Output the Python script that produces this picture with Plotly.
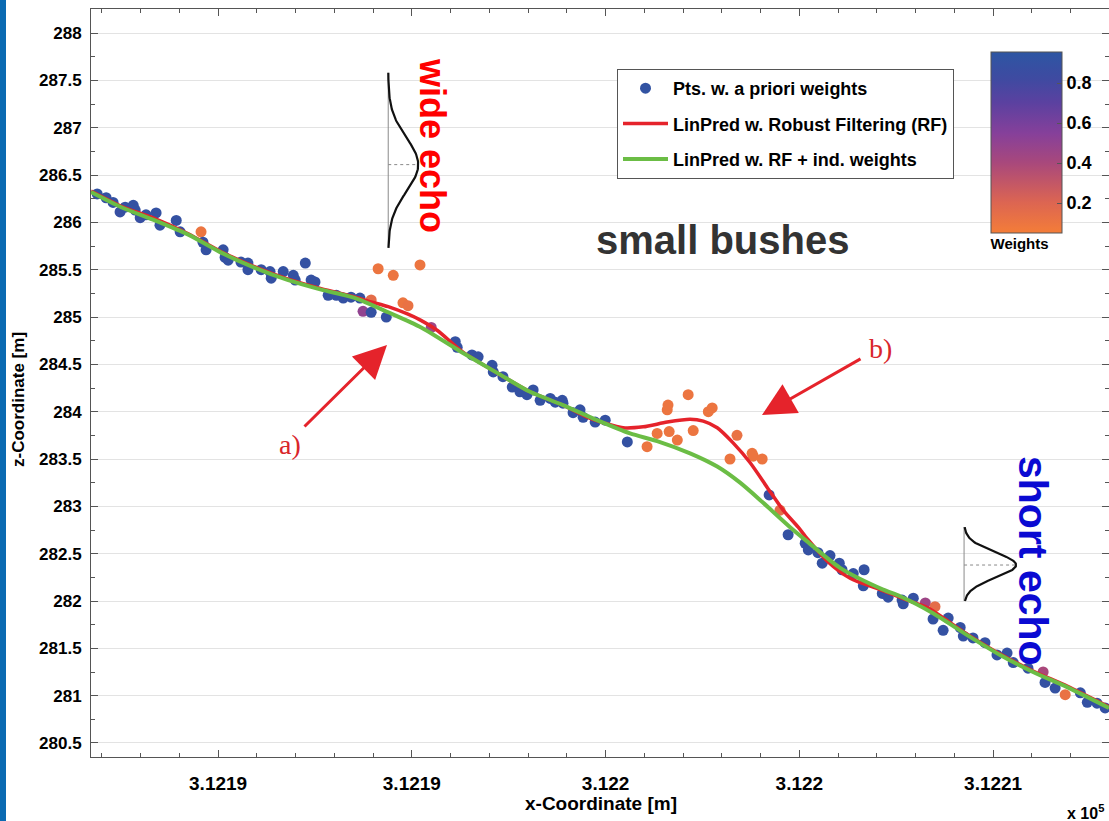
import numpy as np
import plotly.graph_objects as go

# ---------------- data ----------------
# points (x in m, z in m, a-priori weight)
pts_x = [312184.38, 312184.61, 312184.79, 312184.97, 312185.10, 312185.31, 312185.36, 312185.49, 312185.64, 312185.90,
         312186.00, 312186.42, 312186.52, 312187.06, 312187.11, 312187.19, 312187.63, 312187.68, 312187.76, 312188.09,
         312188.27, 312188.27, 312188.61, 312188.84, 312188.87, 312189.18, 312189.44, 312189.49, 312189.75, 312189.90,
         312190.00, 312190.34, 312190.55, 312190.73, 312190.93, 312191.16, 312191.45, 312191.24, 312191.45, 312191.84,
         312191.63, 312192.02, 312192.71, 312192.27, 312192.40, 312193.00, 312193.62, 312193.67, 312194.05, 312194.21,
         312194.57, 312194.60, 312194.85, 312195.09, 312195.29, 312195.47, 312195.63, 312195.81, 312196.07, 312196.20,
         312196.38, 312196.40, 312196.66, 312196.84, 312196.92, 312197.23, 312197.49, 312198.06, 312198.57, 312198.83,
         312199.09, 312199.11, 312199.14, 312199.35, 312199.63, 312199.76, 312200.15, 312200.25, 312200.71, 312200.89,
         312201.28, 312201.31, 312201.54, 312201.72, 312202.00, 312202.21, 312202.65, 312202.73, 312202.98, 312203.09,
         312203.29, 312203.53, 312203.60, 312203.89, 312204.17, 312204.15, 312204.64, 312204.79, 312205.15, 312205.18,
         312205.44, 312205.75, 312206.00, 312205.95, 312206.34, 312206.21, 312206.65, 312206.73, 312206.98, 312207.29,
         312207.60, 312207.86, 312208.02, 312208.40, 312208.79, 312208.84, 312209.10, 312209.36, 312209.75, 312209.93,
         312210.18, 312210.39]
pts_z = [286.30, 286.26, 286.21, 286.11, 286.16, 286.18, 286.13, 286.05, 286.08, 286.10,
         285.97, 286.02, 285.90, 285.90, 285.79, 285.71, 285.71, 285.63, 285.60, 285.58,
         285.57, 285.50, 285.50, 285.48, 285.41, 285.48, 285.44, 285.39, 285.57, 285.39,
         285.37, 285.23, 285.23, 285.20, 285.21, 285.20, 285.18, 285.06, 285.05, 285.00,
         285.51, 285.44, 285.55, 285.15, 285.12, 284.89, 284.74, 284.68, 284.60, 284.58,
         284.49, 284.42, 284.37, 284.26, 284.21, 284.18, 284.23, 284.12, 284.14, 284.10,
         284.12, 284.09, 283.99, 284.02, 283.94, 283.89, 283.91, 283.68, 283.63, 283.77,
         284.02, 284.07, 283.79, 283.70, 284.18, 283.80, 284.00, 284.04, 283.50, 283.75,
         283.56, 283.53, 283.50, 283.12, 282.96, 282.70, 282.61, 282.54, 282.51, 282.40,
         282.48, 282.40, 282.33, 282.29, 282.33, 282.16, 282.08, 282.04, 282.01, 281.97,
         282.03, 281.98, 281.94, 281.81, 281.82, 281.69, 281.72, 281.63, 281.61, 281.56,
         281.43, 281.45, 281.35, 281.29, 281.25, 281.14, 281.08, 281.01, 281.03, 280.93,
         280.92, 280.87]
pts_w = [0.92, 0.90, 0.90, 0.88, 0.90, 0.90, 0.90, 0.88, 0.90, 0.90,
         0.90, 0.90, 0.90, 0.10, 0.90, 0.90, 0.90, 0.90, 0.90, 0.90,
         0.90, 0.90, 0.90, 0.90, 0.90, 0.90, 0.90, 0.90, 0.90, 0.90,
         0.90, 0.90, 0.90, 0.90, 0.90, 0.90, 0.15, 0.50, 0.90, 0.90,
         0.10, 0.10, 0.10, 0.10, 0.12, 0.45, 0.90, 0.90, 0.90, 0.90,
         0.90, 0.90, 0.90, 0.90, 0.90, 0.90, 0.90, 0.90, 0.90, 0.90,
         0.90, 0.90, 0.90, 0.90, 0.90, 0.90, 0.90, 0.90, 0.10, 0.10,
         0.10, 0.10, 0.10, 0.10, 0.10, 0.10, 0.10, 0.10, 0.10, 0.12,
         0.10, 0.10, 0.10, 0.85, 0.15, 0.90, 0.90, 0.90, 0.90, 0.90,
         0.90, 0.90, 0.90, 0.90, 0.90, 0.90, 0.90, 0.90, 0.90, 0.90,
         0.90, 0.45, 0.15, 0.90, 0.90, 0.90, 0.90, 0.90, 0.90, 0.90,
         0.90, 0.90, 0.90, 0.90, 0.40, 0.90, 0.90, 0.12, 0.90, 0.90,
         0.90, 0.90]

# LinPred w. Robust Filtering (RF)
rf_x = [312184.22, 312185.00, 312185.87, 312186.73, 312187.58, 312188.45, 312189.31, 312190.16, 312191.04, 312191.45,
        312191.89, 312192.40, 312192.71, 312193.15, 312193.82, 312194.70, 312195.55, 312196.40, 312197.10, 312197.95,
        312198.47, 312199.09, 312199.68, 312200.02, 312200.38, 312200.79, 312201.23, 312201.67, 312202.08, 312202.47,
        312202.70, 312203.22, 312203.81, 312204.58, 312205.28, 312205.80, 312206.83, 312207.68, 312208.53, 312209.41,
        312210.49]
rf_z = [286.33, 286.17, 286.04, 285.88, 285.69, 285.53, 285.40, 285.30, 285.21, 285.16,
        285.11, 285.03, 284.97, 284.86, 284.63, 284.41, 284.21, 284.07, 283.93, 283.83,
        283.84, 283.89, 283.92, 283.90, 283.83, 283.67, 283.46, 283.20, 282.96, 282.78,
        282.66, 282.42, 282.24, 282.12, 282.01, 281.93, 281.65, 281.44, 281.26, 281.10,
        280.88]

# LinPred w. RF + ind. weights
ind_x = [312184.22, 312185.00, 312185.87, 312186.73, 312187.58, 312188.45, 312189.31, 312190.16, 312191.04, 312191.89,
         312192.74, 312193.82, 312194.70, 312195.55, 312196.40, 312197.28, 312198.13, 312198.83, 312199.68, 312200.38,
         312200.97, 312201.56, 312202.26, 312202.70, 312203.55, 312204.66, 312205.10, 312205.95, 312206.83, 312207.68,
         312208.53, 312209.41, 312210.49]
ind_z = [286.32, 286.16, 286.02, 285.87, 285.68, 285.52, 285.39, 285.29, 285.20, 285.05,
         284.89, 284.62, 284.41, 284.21, 284.07, 283.91, 283.77, 283.69, 283.56, 283.42,
         283.25, 283.04, 282.78, 282.63, 282.35, 282.12, 282.05, 281.87, 281.64, 281.43,
         281.25, 281.09, 280.87]

x_tickvals = [312187.5, 312192.5, 312197.5, 312202.5, 312207.5]
x_ticktext = ["3.1219", "3.1219", "3.122", "3.122", "3.1221"]
z_tickvals = [280.5, 281, 281.5, 282, 282.5, 283, 283.5, 284, 284.5, 285, 285.5, 286, 286.5, 287, 287.5, 288]
z_ticktext = ["280.5", "281", "281.5", "282", "282.5", "283", "283.5", "284", "284.5", "285",
              "285.5", "286", "286.5", "287", "287.5", "288"]
cbar_tickvals = [0.2, 0.4, 0.6, 0.8]

# echo-shape glyphs (illustrative waveform sketches)
wide_echo = dict(x0=312191.89, zc=286.61, amp=0.774, sigma=0.285, zmin=285.73, zmax=287.58)
short_echo = dict(x0=312206.75, zc=282.38, amp=1.342, sigma=0.134, zmin=282.00, zmax=282.78)

assert len(pts_x) == len(pts_z) == len(pts_w)
assert len(rf_x) == len(rf_z) and len(ind_x) == len(ind_z)

# ---------------- layout helpers ----------------
W, H = 1109, 821
ML, MR, MT, MB = 91, 0, 9, 64
PW, PH = W - ML - MR, H - MT - MB


def px(x):
    return (x - ML) / PW


def py(y):
    return (H - MB - y) / PH


FONT = "Liberation Sans, Arial, Helvetica, sans-serif"
SERIF = "Liberation Serif, Times New Roman, serif"

cscale = [[0.0, "#f47d38"], [0.17, "#dc6552"], [0.39, "#a8487c"], [0.55, "#86409a"],
          [0.72, "#5b41a0"], [0.85, "#3f4aa1"], [1.0, "#2d56a3"]]

fig = go.Figure()

fig.add_trace(go.Scatter(
    x=pts_x, y=pts_z, mode="markers", name="Pts. w. a priori weights", legendgroup="g1",
    marker=dict(size=11, color=pts_w, colorscale=cscale, cmin=0.05, cmax=0.955, line=dict(width=0),
                showscale=True,
                colorbar=dict(x=px(991), xanchor="left", y=py(52), yanchor="top",
                              thicknessmode="pixels", thickness=71, lenmode="pixels", len=203,
                              xpad=0, ypad=0, outlinewidth=1, outlinecolor="#555",
                              tickvals=cbar_tickvals, ticks="inside", ticklen=5, tickcolor="#555",
                              tickfont=dict(family=FONT, size=18, color="black", weight="bold"),
                              title=dict(text="Weights", side="bottom",
                                         font=dict(family=FONT, size=15, color="black", weight="bold")))),
    hoverinfo="x+y"))

fig.add_trace(go.Scatter(
    x=rf_x, y=rf_z, mode="lines", name="LinPred w. Robust Filtering (RF)", legendgroup="g2",
    line=dict(color="#e5232b", width=3.5, shape="spline", smoothing=0.7)))

fig.add_trace(go.Scatter(
    x=ind_x, y=ind_z, mode="lines", name="LinPred w. RF + ind. weights", legendgroup="g3",
    line=dict(color="#6bbd45", width=4, shape="spline", smoothing=0.7)))

for e in (wide_echo, short_echo):
    zz = np.linspace(e["zmin"], e["zmax"], 160)
    xx = e["x0"] + e["amp"] * np.exp(-0.5 * ((zz - e["zc"]) / e["sigma"]) ** 2)
    fig.add_trace(go.Scatter(x=[e["x0"], e["x0"]], y=[e["zmin"], e["zmax"]], mode="lines",
                             line=dict(color="#8a8a8a", width=1), showlegend=False, hoverinfo="skip"))
    fig.add_trace(go.Scatter(x=[e["x0"], e["x0"] + e["amp"]], y=[e["zc"], e["zc"]], mode="lines",
                             line=dict(color="#8a8a8a", width=1, dash="dot"), showlegend=False, hoverinfo="skip"))
    fig.add_trace(go.Scatter(x=xx, y=zz, mode="lines", line=dict(color="#111", width=2.2),
                             showlegend=False, hoverinfo="skip"))

axis_common = dict(showline=True, linecolor="#555", linewidth=1, mirror="ticks", zeroline=False,
                   ticks="inside", ticklen=7, tickcolor="#555", tickmode="array")

fig.update_xaxes(range=[312184.22, 312210.49], tickvals=x_tickvals, ticktext=x_ticktext,
                 showgrid=False, ticklabelstandoff=9,
                 tickfont=dict(family=FONT, size=19, color="black", weight="bold"),
                 minor=dict(ticks="inside", ticklen=4, tick0=312187.5, dtick=1, tickcolor="#555", showgrid=False),
                 **axis_common)
fig.update_yaxes(range=[280.352, 288.254], tickvals=z_tickvals, ticktext=z_ticktext,
                 showgrid=True, gridcolor="#e3e3e3", gridwidth=1, ticklabelstandoff=5,
                 tickfont=dict(family=FONT, size=17, color="black", weight="bold"),
                 minor=dict(ticks="inside", ticklen=4, tick0=280.5, dtick=0.25, tickcolor="#555", showgrid=False),
                 **axis_common)


def note(text, x, y, size, color="black", family=FONT, bold=True, angle=0, xanchor="center"):
    return dict(text=text, x=px(x), y=py(y), xref="paper", yref="paper", showarrow=False,
                xanchor=xanchor, yanchor="middle", textangle=angle,
                font=dict(family=family, size=size, color=color, weight="bold" if bold else "normal"))


ann = [
    note("x-Coordinate [m]", 601, 803, 19),
    note("z-Coordinate [m]", 18, 400, 17, angle=-90),
    note("x 10<sup>5</sup>", 1106, 812, 16, xanchor="right"),
    note("wide echo", 432, 145, 36, color="#ff0000", angle=90),
    note("short echo", 1033, 561, 41, color="#0a0ad2", angle=90),
    note("small bushes", 722, 240, 40, color="#333333"),
    note("a)", 290, 444, 28, color="#d9262b", family=SERIF, bold=False),
    note("b)", 880, 348, 28, color="#d9262b", family=SERIF, bold=False),
]
# arrows
ann.append(dict(text="", x=px(387), y=py(345), xref="paper", yref="paper", showarrow=True,
                ax=-84, ay=83, arrowhead=2, arrowsize=2.2, arrowwidth=3, arrowcolor="#e5232b"))
ann.append(dict(text="", x=px(762), y=py(415), xref="paper", yref="paper", showarrow=True,
                ax=100, ay=-57, arrowhead=2, arrowsize=2.2, arrowwidth=3, arrowcolor="#e5232b"))

shapes = [dict(type="rect", xref="paper", yref="paper", x0=px(0), x1=px(6), y0=py(821), y1=py(0),
               fillcolor="#0b6ab2", line=dict(width=0), layer="above")]

fig.update_layout(
    width=W, height=H, margin=dict(l=ML, r=MR, t=MT, b=MB, pad=0),
    paper_bgcolor="white", plot_bgcolor="white",
    font=dict(family=FONT, color="black"),
    showlegend=True,
    legend=dict(x=px(617), y=py(69), xanchor="left", yanchor="top", bgcolor="white",
                bordercolor="#555", borderwidth=1, tracegroupgap=9, itemwidth=45,
                font=dict(family=FONT, size=18, color="black", weight="bold")),
    annotations=ann, shapes=shapes,
)

fig.write_html("out.html")
